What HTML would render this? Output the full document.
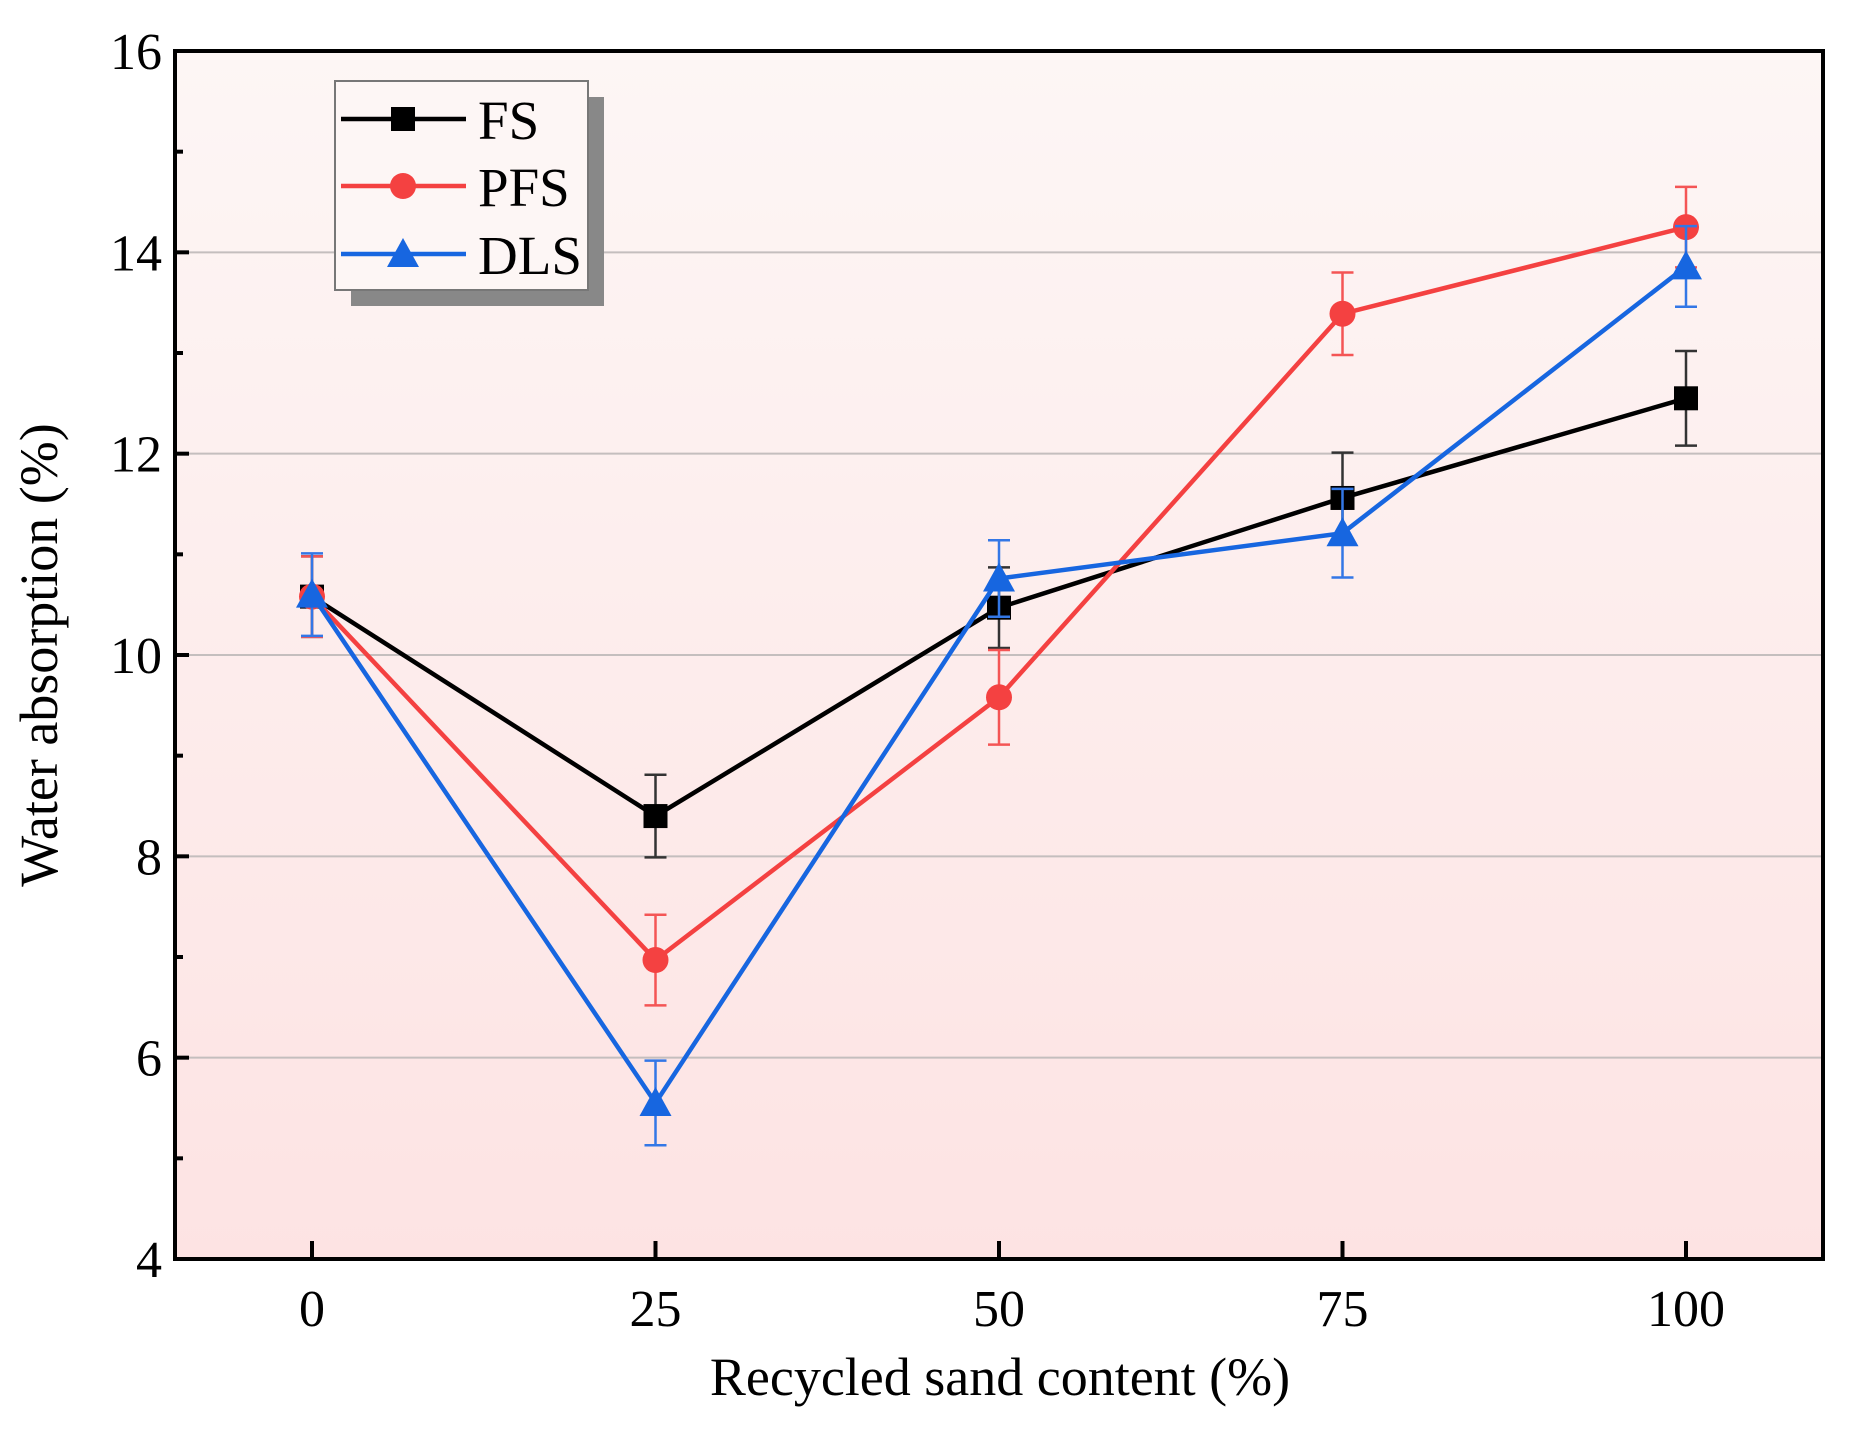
<!DOCTYPE html>
<html><head><meta charset="utf-8"><style>
html,body{margin:0;padding:0;background:#fff;}
svg{display:block;font-family:"Liberation Serif",serif;}
</style></head><body>
<svg id="chart" width="1859" height="1430" viewBox="0 0 1859 1430" xmlns="http://www.w3.org/2000/svg">
<defs>
<linearGradient id="bg" x1="0" y1="0" x2="0" y2="1">
<stop offset="0" stop-color="#fdf6f5"/><stop offset="1" stop-color="#fde3e3"/>
</linearGradient>
</defs>
<rect x="175" y="51" width="1648" height="1208" fill="url(#bg)"/>
<g id="grid"></g>
<g id="series"></g>
<rect x="175" y="51" width="1648" height="1208" fill="none" stroke="#000" stroke-width="4"/>
<g id="axes"></g>
<text transform="translate(57,655) rotate(-90)" text-anchor="middle" font-size="54">Water absorption (%)</text>
<text x="1000" y="1395" text-anchor="middle" font-size="54">Recycled sand content (%)</text>
<g>
<rect x="351" y="97" width="253" height="209" fill="#888"/>
<rect x="335" y="81" width="253" height="209" fill="#fdf6f5" stroke="#777" stroke-width="2"/>
<g id="legend-items"></g>
</g>
</svg>
<script>
const categories = [0, 25, 50, 75, 100];
const seriesNames = ["FS", "PFS", "DLS"];
const fsValues = [10.58, 8.40, 10.47, 11.56, 12.55];
const fsErrors = [0.40, 0.41, 0.40, 0.45, 0.47];
const pfsValues = [10.58, 6.97, 9.58, 13.39, 14.25];
const pfsErrors = [0.40, 0.45, 0.47, 0.41, 0.40];
const dlsValues = [10.60, 5.55, 10.76, 11.21, 13.86];
const dlsErrors = [0.41, 0.42, 0.38, 0.44, 0.40];
const yTicks = [4, 6, 8, 10, 12, 14, 16];
const yMinorTicks = [5, 7, 9, 11, 13, 15];
const xTicks = [0, 25, 50, 75, 100];

const NS = "http://www.w3.org/2000/svg";
const L = 175, R = 1823, T = 51, B = 1259;
const xS = v => 312 + (v - 0) * (1686 - 312) / 100;
const yS = v => B - (v - 4) * (B - T) / 12;
function mk(tag, attrs, parent) {
  const e = document.createElementNS(NS, tag);
  for (const k in attrs) e.setAttribute(k, attrs[k]);
  parent.appendChild(e);
  return e;
}
const grid = document.getElementById('grid');
const axes = document.getElementById('axes');
const seriesG = document.getElementById('series');

yTicks.forEach(t => {
  if (t > 4 && t < 16) {
    const g = mk('line', {x1: L, x2: R, y1: yS(t), y2: yS(t), stroke: '#c4bebe', 'stroke-width': 2}, grid);
    
    
  }
  const tk = mk('line', {x1: L, x2: L + 14, y1: yS(t), y2: yS(t), stroke: '#000', 'stroke-width': 4}, axes);
  
  
  const lb = mk('text', {x: 162, y: yS(t) + 18, 'text-anchor': 'end', 'font-size': 52}, axes);
  lb.textContent = t;
  
  
});
yMinorTicks.forEach(t => {
  const tk = mk('line', {x1: L, x2: L + 8, y1: yS(t), y2: yS(t), stroke: '#000', 'stroke-width': 4}, axes);
  
  
});
xTicks.forEach(t => {
  const tk = mk('line', {x1: xS(t), x2: xS(t), y1: B, y2: B - 18, stroke: '#000', 'stroke-width': 4}, axes);
  
  
  const lb = mk('text', {x: xS(t), y: 1326, 'text-anchor': 'middle', 'font-size': 52}, axes);
  lb.textContent = t;
  
  
});

const colors = ['#000000', '#f44141', '#1766e0'];
const errColors = ['#333333', '#f45555', '#3377e6'];
const allVals = [fsValues, pfsValues, dlsValues];
const allErrs = [fsErrors, pfsErrors, dlsErrors];

function marker(kind, cx, cy, color, parent) {
  let m;
  if (kind === 0) m = mk('rect', {x: cx - 12, y: cy - 12, width: 24, height: 24, fill: color}, parent);
  else if (kind === 1) m = mk('circle', {cx: cx, cy: cy, r: 13, fill: color}, parent);
  else m = mk('polygon', {points: `${cx},${cy - 16} ${cx - 16},${cy + 13} ${cx + 16},${cy + 13}`, fill: color}, parent);
  return m;
}

[0, 1, 2].forEach(s => {
  const g = mk('g', {}, seriesG);
  
  
  const vals = allVals[s], errs = allErrs[s];
  categories.forEach((c, i) => {
    const x = xS(c);
    const e1 = mk('path', {d: `M${x},${yS(vals[i] + errs[i])}V${yS(vals[i] - errs[i])}M${x - 11},${yS(vals[i] + errs[i])}h22M${x - 11},${yS(vals[i] - errs[i])}h22`, stroke: errColors[s], 'stroke-width': 2.5, fill: 'none'}, g);
    
    
  });
  const pts = categories.map((c, i) => xS(c) + ',' + yS(vals[i])).join(' ');
  const line = mk('polyline', {points: pts, fill: 'none', stroke: colors[s], 'stroke-width': 4.5}, g);
  
  
  categories.forEach((c, i) => {
    const m = marker(s, xS(c), yS(vals[i]), colors[s], g);
    
    
  });
});

const leg = document.getElementById('legend-items');
const rowY = [119, 186, 254];
[0, 1, 2].forEach(s => {
  const g = mk('g', {}, leg);
  
  
  mk('line', {x1: 341, x2: 466, y1: rowY[s], y2: rowY[s], stroke: colors[s], 'stroke-width': 4.5}, g);
  marker(s, 403, rowY[s], colors[s], g);
  const t = mk('text', {x: 478, y: rowY[s] + 20, 'font-size': 55}, g);
  t.textContent = seriesNames[s];
});
</script>
</body></html>
